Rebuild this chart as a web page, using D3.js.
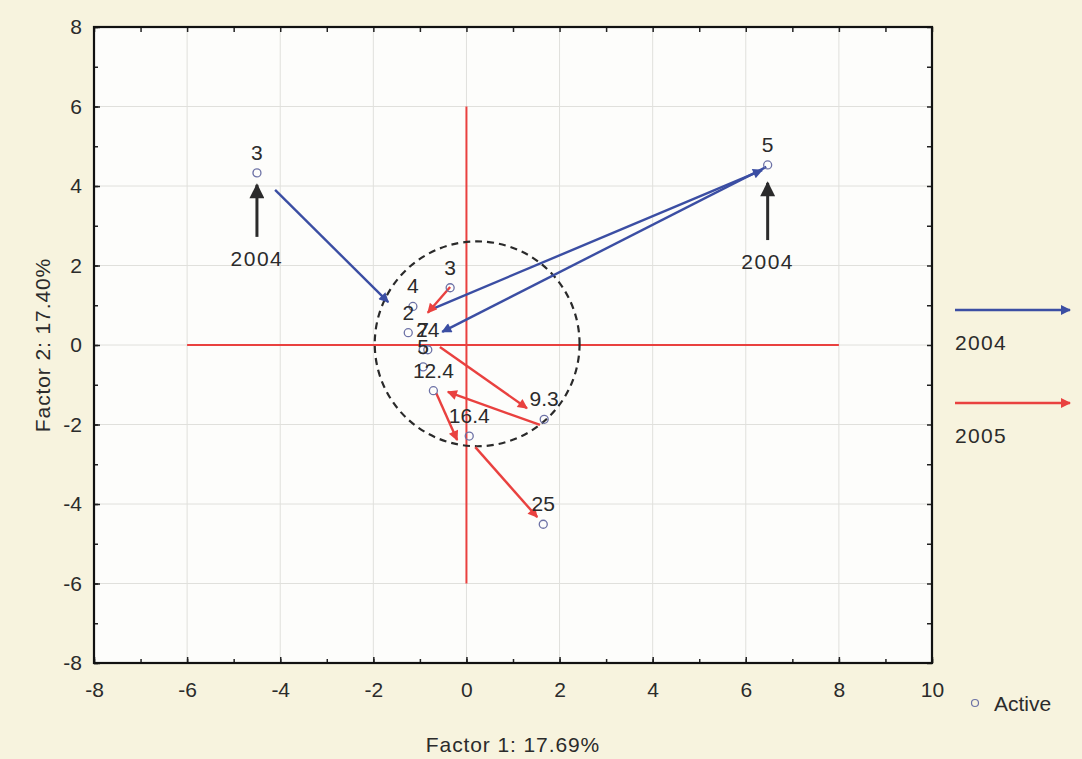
<!DOCTYPE html>
<html>
<head>
<meta charset="utf-8">
<script src="https://cdn.jsdelivr.net/npm/d3@7"></script>
<style>
  body { margin: 0; background: #f7f3de; }
  svg { display: block; font-family: "Liberation Sans", Arial, sans-serif; }
</style>
</head>
<body>
<svg id="chart" width="1082" height="759"></svg>
<script>
// points (label, factor 1, factor 2)
var pointLabels = ["3", "5", "3", "4", "2", "7", "24", "5", "12.4", "9.3", "16.4", "25"];
var pointX = [-4.50, 6.47, -0.35, -1.15, -1.25, -0.93, -0.83, -0.93, -0.71, 1.67, 0.06, 1.65];
var pointY = [4.33, 4.53, 1.44, 0.97, 0.31, -0.12, -0.12, -0.55, -1.15, -1.87, -2.29, -4.51];

// arrows 2004 (blue)
var blueX1 = [-4.11, -0.69, 6.44];
var blueY1 = [3.90, 0.93, 4.48];
var blueX2 = [-1.68, 6.35, -0.52];
var blueY2 = [1.08, 4.40, 0.33];

// arrows 2005 (red)
var redX1 = [-0.35, -0.57, 1.58, -0.65, 0.19];
var redY1 = [1.46, -0.05, -2.01, -1.21, -2.57];
var redX2 = [-0.83, 1.30, -0.40, -0.20, 1.52];
var redY2 = [0.81, -1.59, -1.18, -2.39, -4.33];

// black "2004" markers
var noteX = [-4.50, 6.47];
var noteYtail = [2.72, 2.64];
var noteYtip = [4.03, 4.08];
var noteText = ["2004", "2004"];

// dashed circle
var ringX = 0.23, ringY = 0.03, ringR = 2.2;

// red cross
var crossX = [-6, 8];
var crossY = [-6, 6];

var xTicks = [-8, -6, -4, -2, 0, 2, 4, 6, 8, 10];
var yTicks = [-8, -6, -4, -2, 0, 2, 4, 6, 8];
var legendYears = ["2004", "2005"];

var svg = d3.select("#chart");
var L = 94, T = 27, R = 932, B = 663;

var x = d3.scaleLinear().domain([-8, 10]).range([L, R]);
var y = d3.scaleLinear().domain([-8, 8]).range([B, T]);

var blue = "#3b4ea3", red = "#e9413f", ink = "#2b2b2b";
var fs = 21;

// markers
var defs = svg.append("defs");
function marker(id, col, w, h) {
  defs.append("marker").attr("id", id)
    .attr("viewBox", "0 0 10 10").attr("refX", 9).attr("refY", 5)
    .attr("markerUnits", "userSpaceOnUse")
    .attr("markerWidth", w).attr("markerHeight", h)
    .attr("orient", "auto")
    .append("path").attr("d", "M0,0 L10,5 L0,10 Z").attr("fill", col);
}
marker("hb", blue, 14, 10);
marker("hr", red, 14, 10);
marker("hk", ink, 17, 15);

// plot background
svg.append("rect").attr("x", L).attr("y", T).attr("width", R - L).attr("height", B - T)
  .attr("fill", "#fdfdfb");

// grid
svg.append("g").selectAll("line").data(xTicks.slice(1, -1)).join("line")
  .attr("x1", d => x(d)).attr("x2", d => x(d)).attr("y1", T).attr("y2", B)
  .attr("stroke", "#e0e0dc").attr("stroke-width", 1);
svg.append("g").selectAll("line").data(yTicks.slice(1, -1)).join("line")
  .attr("y1", d => y(d)).attr("y2", d => y(d)).attr("x1", L).attr("x2", R)
  .attr("stroke", "#e0e0dc").attr("stroke-width", 1);

// red cross
svg.append("line").attr("x1", x(crossX[0])).attr("x2", x(crossX[1]))
  .attr("y1", y(0)).attr("y2", y(0)).attr("stroke", red).attr("stroke-width", 2);
svg.append("line").attr("x1", x(0)).attr("x2", x(0))
  .attr("y1", y(crossY[0])).attr("y2", y(crossY[1])).attr("stroke", red).attr("stroke-width", 2);

// dashed circle
svg.append("circle").attr("cx", x(ringX)).attr("cy", y(ringY))
  .attr("r", x(ringR) - x(0))
  .attr("fill", "none").attr("stroke", "#2a2a2a").attr("stroke-width", 2.2)
  .attr("stroke-dasharray", "7,5");

// axes
function styleAxis(g) {
  g.select(".domain").remove();
  g.selectAll(".tick line").attr("stroke", "#222").attr("stroke-width", 1.5);
  g.selectAll(".tick text").attr("fill", ink).attr("font-size", fs)
    .attr("font-family", "Liberation Sans, Arial, sans-serif");
}
var fmt = d => String(d);
var minorX = d3.range(-8, 11, 1), minorY = d3.range(-8, 9, 1);
svg.append("g").attr("transform", "translate(0," + B + ")")
  .call(d3.axisBottom(x).tickValues(minorX).tickSize(-4).tickFormat(""))
  .call(styleAxis);
svg.append("g").attr("transform", "translate(0," + B + ")")
  .call(d3.axisBottom(x).tickValues(xTicks).tickSize(-6).tickPadding(19).tickFormat(fmt))
  .call(styleAxis);
svg.append("g").attr("transform", "translate(0," + T + ")")
  .call(d3.axisTop(x).tickValues(minorX).tickSize(-5).tickFormat(""))
  .call(styleAxis);
svg.append("g").attr("transform", "translate(" + L + ",0)")
  .call(d3.axisLeft(y).tickValues(minorY).tickSize(-4).tickFormat(""))
  .call(styleAxis);
svg.append("g").attr("transform", "translate(" + L + ",0)")
  .call(d3.axisLeft(y).tickValues(yTicks).tickSize(-6).tickPadding(12).tickFormat(fmt))
  .call(styleAxis);
svg.append("g").attr("transform", "translate(" + R + ",0)")
  .call(d3.axisRight(y).tickValues(minorY).tickSize(-5).tickFormat(""))
  .call(styleAxis);

// frame
svg.append("rect").attr("x", L).attr("y", T).attr("width", R - L).attr("height", B - T)
  .attr("fill", "none").attr("stroke", "#111").attr("stroke-width", 2.2);

// blue arrows
svg.append("g").selectAll("line").data(blueX1).join("line")
  .attr("x1", (d, i) => x(blueX1[i])).attr("y1", (d, i) => y(blueY1[i]))
  .attr("x2", (d, i) => x(blueX2[i])).attr("y2", (d, i) => y(blueY2[i]))
  .attr("stroke", blue).attr("stroke-width", 2.4).attr("marker-end", "url(#hb)");

// red arrows
svg.append("g").selectAll("line").data(redX1).join("line")
  .attr("x1", (d, i) => x(redX1[i])).attr("y1", (d, i) => y(redY1[i]))
  .attr("x2", (d, i) => x(redX2[i])).attr("y2", (d, i) => y(redY2[i]))
  .attr("stroke", red).attr("stroke-width", 2.4).attr("marker-end", "url(#hr)");

// points
svg.append("g").selectAll("circle").data(pointX).join("circle")
  .attr("cx", (d, i) => x(pointX[i])).attr("cy", (d, i) => y(pointY[i]))
  .attr("r", 4).attr("fill", "none").attr("stroke", "#6d72a6").attr("stroke-width", 1.3);
svg.append("g").selectAll("text").data(pointLabels).join("text")
  .attr("x", (d, i) => x(pointX[i])).attr("y", (d, i) => y(pointY[i]) - 13)
  .attr("text-anchor", "middle").attr("font-size", fs).attr("fill", ink)
  .text(d => d);

// black 2004 markers
svg.append("g").selectAll("line").data(noteX).join("line")
  .attr("x1", d => x(d)).attr("x2", d => x(d))
  .attr("y1", (d, i) => y(noteYtail[i])).attr("y2", (d, i) => y(noteYtip[i]))
  .attr("stroke", ink).attr("stroke-width", 3).attr("marker-end", "url(#hk)");
svg.append("g").selectAll("text").data(noteText).join("text")
  .attr("x", (d, i) => x(noteX[i])).attr("y", (d, i) => y(noteYtail[i]) + 29)
  .attr("text-anchor", "middle").attr("font-size", fs).attr("letter-spacing", 1.5)
  .attr("fill", ink).text(d => d);

// axis titles
svg.append("text").attr("x", 513).attr("y", 752).attr("text-anchor", "middle")
  .attr("font-size", fs).attr("letter-spacing", 0.9).attr("fill", ink).text("Factor 1: 17.69%");
svg.append("text").attr("transform", "translate(50," + y(0) + ") rotate(-90)")
  .attr("text-anchor", "middle").attr("font-size", fs).attr("letter-spacing", 0.9).attr("fill", ink)
  .text("Factor 2: 17.40%");

// legend
var leg = svg.append("g").selectAll("g").data(legendYears).join("g")
  .attr("transform", (d, i) => "translate(955," + (310 + i * 93) + ")");
leg.append("line").attr("x1", 0).attr("x2", 115).attr("y1", 0).attr("y2", 0)
  .attr("stroke", (d, i) => i ? red : blue).attr("stroke-width", 2.5)
  .attr("marker-end", (d, i) => i ? "url(#hr)" : "url(#hb)");
leg.append("text").attr("x", 0).attr("y", 40).attr("font-size", fs).attr("letter-spacing", 1.3)
  .attr("fill", ink).text(d => d);

svg.append("circle").attr("cx", 975).attr("cy", 703).attr("r", 3.5)
  .attr("fill", "none").attr("stroke", "#6d72a6").attr("stroke-width", 1.2);
svg.append("text").attr("x", 994).attr("y", 711).attr("font-size", fs).attr("fill", ink)
  .text("Active");
</script>
</body>
</html>
